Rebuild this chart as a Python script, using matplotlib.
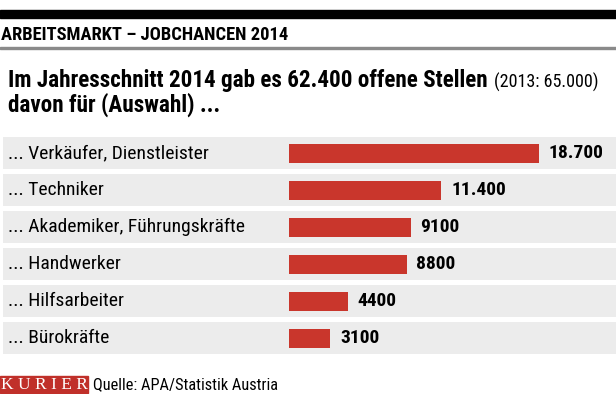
import matplotlib
matplotlib.use("Agg")
import matplotlib.pyplot as plt
from matplotlib import font_manager
from matplotlib.patches import Rectangle
import matplotlib.transforms as mtransforms

# data
categories = ["... Verkäufer, Dienstleister", "... Techniker", "... Akademiker, Führungskräfte",
              "... Handwerker", "... Hilfsarbeiter", "... Bürokräfte"]
values = [18700, 11400, 9100, 8800, 4400, 3100]
value_labels = ["18.700", "11.400", "9100", "8800", "4400", "3100"]

title = "ARBEITSMARKT – JOBCHANCEN 2014"
subtitle_1 = "Im Jahresschnitt 2014 gab es 62.400 offene Stellen"
subtitle_note = "(2013: 65.000)"
subtitle_2 = "davon für (Auswahl) ..."
source = "Quelle: APA/Statistik Austria"

# pick a narrow font if there is one
names = set(f.name for f in font_manager.fontManager.ttflist)
narrow = None
for cand in ["Liberation Sans Narrow", "DejaVu Sans Condensed", "Roboto Condensed", "Open Sans Condensed"]:
    if cand in names:
        narrow = cand
        break
if narrow is None:
    narrow = "DejaVu Sans"
plt.rcParams['font.family'] = [narrow, 'DejaVu Sans']

W, H = 616, 394
fig = plt.figure(figsize=(W / 100, H / 100), dpi=100)


def fx(px):
    return px / W


def fy(py):
    return 1 - py / H


BAR_RED = "#c9362c"
BAND = "#ececec"

# header
fig.patches.append(Rectangle((0, fy(18)), 1, fy(10) - fy(18), transform=fig.transFigure,
                             color="black", zorder=0))
fig.text(fx(1), fy(35), title, fontsize=13.3, fontweight="bold", va="center", ha="left")
fig.patches.append(Rectangle((0, fy(48.5)), 1, fy(47) - fy(48.5), transform=fig.transFigure,
                             color="#8a8a8a", zorder=0))

t1 = fig.text(fx(8), fy(81), subtitle_1, fontsize=16.7, fontweight="bold", va="center", ha="left")
fig.canvas.draw()
bb = t1.get_window_extent()
fig.text(bb.x1 / W + fx(6), fy(82), subtitle_note, fontsize=13, va="center", ha="left")
fig.text(fx(8), fy(105), subtitle_2, fontsize=16.7, fontweight="bold", va="center", ha="left")

# chart area: bands from x=3 to the right edge, bars start at x=289
scale = 250 / 18700.0  # px per unit
ax_left, ax_right = 3, W
ax_top, ax_bot = 134.5, 356.5
ax = fig.add_axes([fx(ax_left), fy(ax_bot), fx(ax_right - ax_left), (ax_bot - ax_top) / H])
ax.set_xlim(-(289 - ax_left) / scale, (ax_right - 289) / scale)
ax.set_ylim(len(values) - 0.5, -0.5)
ax.axis("off")

gap = 2.5 / 37
for i in range(len(values)):
    ax.axhspan(i - 0.5 + gap, i + 0.5 - gap, color=BAND, lw=0, zorder=0)

ax.barh(range(len(values)), values, height=19 / 37, color=BAR_RED, zorder=2)

trans = mtransforms.blended_transform_factory(ax.transAxes, ax.transData)
for i, (cat, v, lab) in enumerate(zip(categories, values, value_labels)):
    ax.text((8 - ax_left) / (ax_right - ax_left), i, cat, transform=trans,
            fontsize=14, va="center", ha="left")
    ax.annotate(lab, (v, i), xytext=(7, 0), textcoords="offset points",
                fontsize=14, fontweight="bold", va="center", ha="left")

# footer
fig.patches.append(Rectangle((0, fy(393)), fx(88), fy(376) - fy(393), transform=fig.transFigure,
                             color="#c0302a", zorder=0))
fig.text(fx(44), fy(385), "K U R I E R", fontsize=12.5, color="white", family="Liberation Serif",
         va="center", ha="center")
fig.text(fx(93), fy(385), source, fontsize=11.8, va="center", ha="left")

fig.savefig("out.png", dpi=100)
